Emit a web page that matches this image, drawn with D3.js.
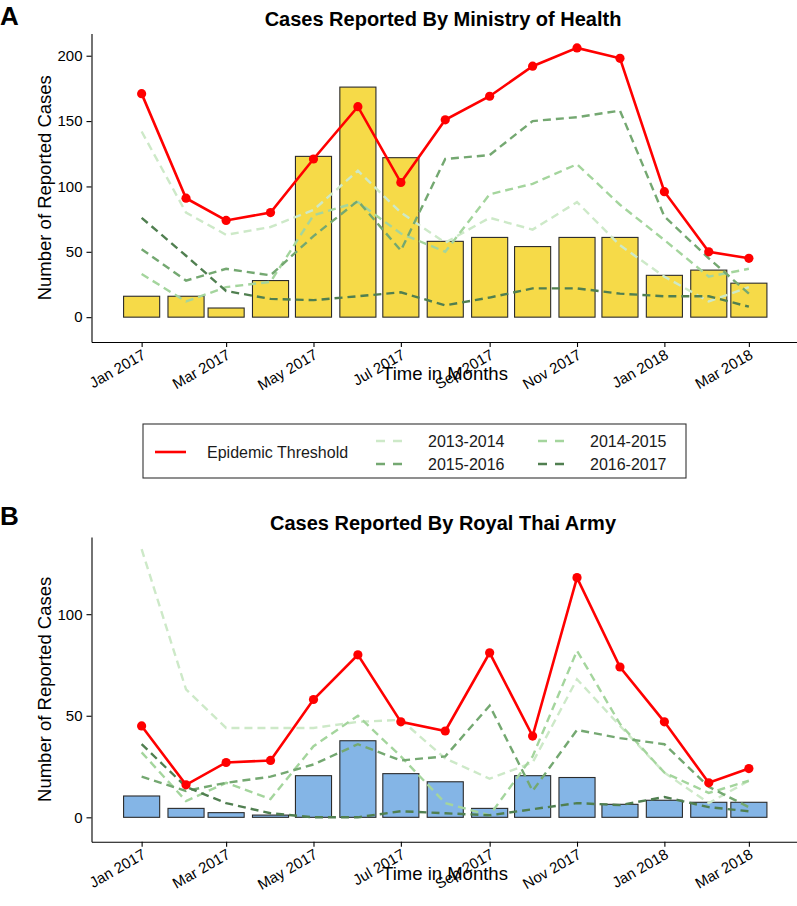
<!DOCTYPE html>
<html>
<head>
<meta charset="utf-8">
<script src="https://cdn.jsdelivr.net/npm/d3@7"></script>
<style>
  html, body { margin: 0; padding: 0; background: #fff; }
  svg { display: block; font-family: "Liberation Sans", Arial, sans-serif; }
</style>
</head>
<body>
<svg id="chart" width="797" height="906"></svg>
<script>
// ---------------- DATA ----------------
const months = ["2017-01","2017-02","2017-03","2017-04","2017-05","2017-06","2017-07",
                "2017-08","2017-09","2017-10","2017-11","2017-12","2018-01","2018-02","2018-03"];
const tickMonths = ["2017-01","2017-03","2017-05","2017-07","2017-09","2017-11","2018-01","2018-03"];

// Panel A: Ministry of Health
const mohCases     = [16, 16, 7, 28, 123, 176, 122, 58, 61, 54, 61, 61, 32, 36, 26];
const mohThreshold = [171, 91, 74, 80, 121, 161, 103, 151, 169, 192, 206, 198, 96, 50, 45];
const moh2013_2014 = [142, 80, 63, 69, 82, 112, 80, 57, 76, 67, 88, 55, 31, 12, 23];
const moh2014_2015 = [33, 12, 23, 27, 78, 88, 64, 50, 94, 102, 117, 86, 59, 31, 37];
const moh2015_2016 = [52, 28, 37, 32, 62, 89, 51, 121, 124, 150, 153, 158, 77, 45, 18];
const moh2016_2017 = [76, 47, 20, 14, 13, 16, 19, 9, 15, 22, 22, 18, 16, 16, 8];
const mohYTicks    = [0, 50, 100, 150, 200];

// Panel B: Royal Thai Army
const rtaCases     = [10.5, 4.4, 2.3, 1.1, 20.5, 37.7, 21.5, 17.5, 4.4, 20.5, 19.6, 6.4, 8.4, 7.4, 7.4];
const rtaThreshold = [45, 16, 27, 28, 58, 80, 47, 42.5, 81, 40, 118, 74, 47, 17, 24];
const rta2013_2014 = [132, 63, 44, 44, 44, 47, 48, 29, 19, 27, 68, 45, 22, 7, 18];
const rta2014_2015 = [32, 8, 17, 9, 35, 50, 30, 7, 1, 30, 82, 46, 22, 12, 18];
const rta2015_2016 = [20, 13, 17, 20, 26, 36, 28, 30, 55, 13, 43, 39, 36, 15, 5];
const rta2016_2017 = [36, 15, 7, 2, 0, 0, 3, 2, 1, 4, 7, 6, 10, 5, 3];
const rtaYTicks    = [0, 50, 100];

const seasonNames  = ["2013-2014", "2014-2015", "2015-2016", "2016-2017"];
const seasonColors = ["#cde9c8", "#a4d59d", "#74a871", "#507f50"];
const thresholdName = "Epidemic Threshold";

// ---------------- DRAW ----------------
const svg = d3.select("#chart");
const parse = d3.utcParse("%Y-%m");
const dates = months.map(parse);
const tickDates = tickMonths.map(parse);

const x = d3.scaleUtc()
  .domain([d3.utcDay.offset(dates[0], -35), d3.utcDay.offset(dates[dates.length - 1], 35)])
  .range([91.5, 799]);
const barW = (x(d3.utcDay.offset(dates[0], 28)) - x(dates[0])) * 0.9;
const fmt = d3.utcFormat("%b %Y");

function panel(opts) {
  const { label, title, top, bottom, yDomain, yTicks, cases, threshold, seasons, barColor, labelY, titleY } = opts;
  const y = d3.scaleLinear().domain(yDomain).range([bottom, top]);
  const g = svg.append("g");

  // panel letter & title
  svg.append("text").attr("x", 0).attr("y", labelY).text(label)
    .attr("font-size", 26).attr("font-weight", "bold").attr("fill", "#000");
  svg.append("text").attr("x", 443).attr("y", titleY).text(title)
    .attr("text-anchor", "middle").attr("font-size", 20).attr("font-weight", "bold").attr("fill", "#000");

  // bars
  g.selectAll("rect.bar").data(cases).join("rect")
    .attr("x", (d, i) => x(dates[i]) - barW / 2)
    .attr("width", barW)
    .attr("y", d => y(d))
    .attr("height", d => y(0) - y(d))
    .attr("fill", barColor)
    .attr("stroke", "#2b2b2b")
    .attr("stroke-width", 1.1);

  // seasonal dashed lines
  const line = d3.line().x((d, i) => x(dates[i])).y(d => y(d));
  seasons.forEach((s, k) => {
    g.append("path").datum(s)
      .attr("d", line)
      .attr("fill", "none")
      .attr("stroke", seasonColors[k])
      .attr("stroke-width", 2.4)
      .attr("stroke-dasharray", "8,5");
  });

  // threshold line and points
  g.append("path").datum(threshold)
    .attr("d", line)
    .attr("fill", "none")
    .attr("stroke", "#ff0000")
    .attr("stroke-width", 2.6);
  g.selectAll("circle.pt").data(threshold).join("circle")
    .attr("cx", (d, i) => x(dates[i]))
    .attr("cy", d => y(d))
    .attr("r", 4.6)
    .attr("fill", "#ff0000");

  // axes
  const yAxis = g.append("g").attr("transform", "translate(91.5,0)")
    .call(d3.axisLeft(y).tickValues(yTicks).tickSize(5).tickPadding(4).tickSizeOuter(0));
  yAxis.select(".domain").attr("stroke", "#000").attr("stroke-width", 1.1);
  yAxis.selectAll(".tick line").attr("stroke", "#000").attr("stroke-width", 1.1);
  yAxis.selectAll(".tick text").attr("font-size", 15).attr("fill", "#000")
    .attr("font-family", "Liberation Sans, Arial, sans-serif");

  const xAxis = g.append("g").attr("transform", `translate(0,${bottom})`)
    .call(d3.axisBottom(x).tickValues(tickDates).tickFormat(fmt).tickSize(5).tickSizeOuter(0));
  xAxis.select(".domain").attr("stroke", "#000").attr("stroke-width", 1.1);
  xAxis.selectAll(".tick line").attr("stroke", "#000").attr("stroke-width", 1.1);
  xAxis.selectAll(".tick text")
    .attr("font-size", 15).attr("fill", "#000")
    .attr("font-family", "Liberation Sans, Arial, sans-serif")
    .attr("text-anchor", "end")
    .attr("dy", null)
    .attr("y", 0)
    .attr("transform", "translate(-1,6) rotate(-30)")
    .attr("dominant-baseline", "hanging");

  // axis titles
  svg.append("text")
    .attr("transform", `translate(51,${(top + bottom) / 2}) rotate(-90)`)
    .attr("text-anchor", "middle")
    .attr("font-size", 18.5).attr("fill", "#000")
    .text("Number of Reported Cases");
  svg.append("text")
    .attr("x", 445).attr("y", bottom + 38)
    .attr("text-anchor", "middle")
    .attr("font-size", 18.5).attr("fill", "#000")
    .text("Time in Months");
}

panel({
  label: "A", title: "Cases Reported By Ministry of Health",
  top: 33.5, bottom: 342, yDomain: [-19, 217], yTicks: mohYTicks,
  cases: mohCases, threshold: mohThreshold,
  seasons: [moh2013_2014, moh2014_2015, moh2015_2016, moh2016_2017],
  barColor: "#f6da48", labelY: 25, titleY: 26
});

panel({
  label: "B", title: "Cases Reported By Royal Thai Army",
  top: 537, bottom: 841.7, yDomain: [-12, 138], yTicks: rtaYTicks,
  cases: rtaCases, threshold: rtaThreshold,
  seasons: [rta2013_2014, rta2014_2015, rta2015_2016, rta2016_2017],
  barColor: "#84b5e6", labelY: 525, titleY: 530
});

// ---------------- LEGEND ----------------
const lg = svg.append("g");
lg.append("rect").attr("x", 143).attr("y", 424).attr("width", 543).attr("height", 54)
  .attr("fill", "#fff").attr("stroke", "#333").attr("stroke-width", 1.1);
lg.append("line").attr("x1", 155).attr("x2", 186).attr("y1", 452).attr("y2", 452)
  .attr("stroke", "#ff0000").attr("stroke-width", 2.6);
lg.append("text").attr("x", 207).attr("y", 452).attr("dominant-baseline", "central")
  .attr("font-size", 16).attr("fill", "#1a1a1a").text(thresholdName);

const legendPos = [[376, 441], [538, 441], [376, 464], [538, 464]];
seasonNames.forEach((name, k) => {
  const [lx, ly] = legendPos[k];
  lg.append("line").attr("x1", lx).attr("x2", lx + 28).attr("y1", ly).attr("y2", ly)
    .attr("stroke", seasonColors[k]).attr("stroke-width", 2.4).attr("stroke-dasharray", "9,8");
  lg.append("text").attr("x", lx + 52).attr("y", ly).attr("dominant-baseline", "central")
    .attr("font-size", 16).attr("fill", "#1a1a1a").text(name);
});
</script>
</body>
</html>
